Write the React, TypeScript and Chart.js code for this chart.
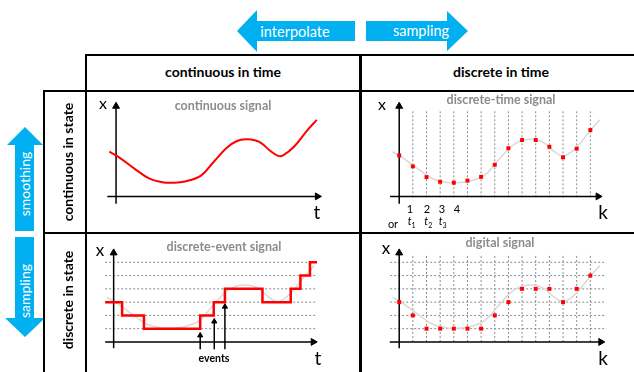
import React, { useEffect, useRef } from 'react';
import { Chart, registerables } from 'chart.js';
Chart.register(...registerables);

const FONT = 'Lato, "Open Sans", sans-serif';

// ---------------- data ----------------
// continuous signal x(t): t in sample periods, x in quantisation levels
const curveT = [-0.49, 0.09, 1.27, 2.45, 3.39, 4.1, 5.04, 6.22, 7.16, 8.11, 8.82, 9.52, 10.23, 10.69, 11.29, 11.87, 12.23, 13.05, 13.99, 14.7];
const curveX = [3.36, 3.03, 2.15, 1.33, 1.07, 1.03, 1.12, 1.56, 2.61, 3.66, 4.15, 4.29, 4.2, 3.97, 3.43, 3.05, 3.08, 3.75, 4.95, 5.76];
// sample indices k and sampled values
const sampleK = [0, 1, 2, 3, 4, 5, 6, 7, 8, 9, 10, 11, 12, 13, 14];
const sampleX = [3.08, 2.26, 1.45, 1.1, 1.03, 1.19, 1.47, 2.38, 3.62, 4.24, 4.24, 3.73, 2.94, 3.59, 4.99];
// digital (quantised) samples
const digitalX = [3, 2, 1, 1, 1, 1, 1, 2, 3, 4, 4, 4, 3, 4, 5];
// sample grid lines and quantisation levels
const gridK = [1, 2, 3, 4, 5, 6, 7, 8, 9, 10, 11, 12, 13, 14];
const levels = [1, 2, 3, 4, 5, 6];
// discrete-event signal: segment start times and levels
const eventT = [-0.62, 0.62, 2.22, 6.34, 7.33, 8.15, 10.9, 12.97, 13.68, 14.38, 14.9];
const eventX = [3, 2, 1, 2, 3, 4, 3, 4, 5, 6, 6];
// event markers
const eventArrowT = [6.34, 7.37, 8.15];
const eventArrowTop = [0.7, 1.75, 2.87];
// tick labels
const kTickLabels = ['1', '2', '3', '4'];
const tTickLabels = ['1', '2', '3'];

// ---------------- layout ----------------
const PX_T = 14.17; // px per sample period
const PX_X = 14.3; // px per level

type Box = { left: number; top: number; width: number; height: number; ox: number; oy: number };

const BOX_TL: Box = { left: 86, top: 91, width: 274, height: 142, ox: 112, oy: 199 };
const BOX_TR: Box = { left: 360, top: 91, width: 274, height: 142, ox: 395.5, oy: 199 };
const BOX_BL: Box = { left: 86, top: 233, width: 274, height: 139, ox: 109.5, oy: 345 };
const BOX_BR: Box = { left: 360, top: 233, width: 274, height: 139, ox: 395.5, oy: 345 };

const RED = '#ff0000';
const LIGHT = '#d9d9d9';
const DOT = '#8a8a8a';

const pts = (xs: number[], ys: number[]) => xs.map((x, i) => ({ x, y: ys[i] }));

const line = (data: any[], color: string, width: number, extra: any = {}) => ({
  data,
  showLine: true,
  borderColor: color,
  backgroundColor: color,
  borderWidth: width,
  pointRadius: 0,
  clip: false,
  tension: 0,
  spanGaps: false,
  ...extra,
});

function axes(xFrom: number, xTo: number, yFrom: number, yTo: number) {
  const r = 4;
  const head = { pointRadius: [0, r], pointStyle: 'triangle', pointBackgroundColor: '#000', pointBorderColor: '#000', pointBorderWidth: 1, order: 1 };
  return [
    line([{ x: 0, y: yFrom }, { x: 0, y: yTo - r / PX_X }], '#000', 1.5, { ...head, pointRotation: 0 }),
    line([{ x: xFrom, y: 0 }, { x: xTo - r / PX_T, y: 0 }], '#000', 1.5, { ...head, pointRotation: 90 }),
  ];
}

function vGrid(y0: number, y1: number) {
  const d: any[] = [];
  gridK.forEach((k) => d.push({ x: k, y: y0 }, { x: k, y: y1 }, { x: k, y: null }));
  return line(d, DOT, 1, { borderDash: [2, 2], order: 3 });
}

function hGrid(x0: number, x1: number) {
  const d: any[] = [];
  levels.forEach((l) => d.push({ x: x0, y: l }, { x: x1, y: l }, { x: null, y: null }));
  return line(d, DOT, 1, { borderDash: [2, 2], order: 3 });
}

const grayCurve = () => line(pts(curveT, curveX), LIGHT, 1.5, { tension: 0.4, order: 2 });

const samplePoints = (ys: number[]) => ({
  data: pts(sampleK, ys),
  showLine: false,
  pointStyle: 'rect',
  pointRadius: 2.8,
  pointBackgroundColor: RED,
  pointBorderColor: RED,
  pointBorderWidth: 0,
  clip: false,
  order: 0,
});

function Panel({ box, datasets }: { box: Box; datasets: any[] }) {
  const ref = useRef<HTMLCanvasElement>(null);
  useEffect(() => {
    const c = new Chart(ref.current as HTMLCanvasElement, {
      type: 'scatter',
      data: { datasets },
      options: {
        responsive: false,
        animation: false,
        events: [],
        devicePixelRatio: 1,
        layout: { padding: 0 },
        plugins: { legend: { display: false }, tooltip: { enabled: false } },
        scales: {
          x: { type: 'linear', display: false, min: (box.left - box.ox) / PX_T, max: (box.left + box.width - box.ox) / PX_T },
          y: { type: 'linear', display: false, min: -(box.top + box.height - box.oy) / PX_X, max: (box.oy - box.top) / PX_X },
        },
      } as any,
    });
    return () => c.destroy();
  }, []);
  return (
    <canvas
      ref={ref}
      width={box.width}
      height={box.height}
      style={{ position: 'absolute', left: box.left, top: box.top, width: box.width, height: box.height }}
    />
  );
}

function T({ x, y, children, size = 12, bold = false, color = '#000', rot = 0, italic = false }: any) {
  return (
    <div
      style={{
        position: 'absolute',
        left: x,
        top: y,
        transform: `translate(-50%,-50%) rotate(${rot}deg)`,
        whiteSpace: 'nowrap',
        lineHeight: 1,
        fontSize: size,
        fontWeight: bold ? 700 : 400,
        fontStyle: italic ? 'italic' : 'normal',
        color,
        fontFamily: FONT,
      }}
    >
      {children}
    </div>
  );
}

const Rule = ({ x, y, w, h }: any) => (
  <div style={{ position: 'absolute', left: x, top: y, width: w, height: h, background: '#000' }} />
);

const Shape = ({ x, y, w, h, poly }: any) => (
  <div
    style={{
      position: 'absolute',
      left: x,
      top: y,
      width: w,
      height: h,
      background: '#00b0f0',
      clipPath: `polygon(${poly.map((p: number[]) => `${p[0]}px ${p[1]}px`).join(',')})`,
    }}
  />
);

export default function App() {
  useEffect(() => {
    document.body.style.margin = '0';
  }, []);

  const tl = [line(pts(curveT, curveX), RED, 2, { tension: 0.4, order: 0 }), ...axes(-0.64, 15.03, -0.56, 7.06)];
  const tr = [samplePoints(sampleX), ...axes(-0.67, 14.85, -0.56, 7.06), grayCurve(), vGrid(-0.07, 6.43)];
  const bl = [
    line(pts(eventT, eventX), RED, 2.5, { stepped: true, order: 0 }),
    ...axes(-0.62, 14.9, -0.47, 6.99),
    ...eventArrowT.map((t, i) =>
      line([{ x: t, y: -0.56 }, { x: t, y: eventArrowTop[i] - 3 / PX_X }], '#000', 1.5, {
        pointRadius: [0, 3],
        pointStyle: 'triangle',
        pointBackgroundColor: '#000',
        pointBorderColor: '#000',
        pointBorderWidth: 1,
        order: 1,
      })
    ),
    grayCurve(),
    hGrid(-0.62, 14.9),
  ];
  const br = [samplePoints(digitalX), ...axes(-0.69, 15.05, -0.47, 6.99), grayCurve(), vGrid(0, 6.64), hGrid(-0.66, 15.17)];

  const kTickPx = [410, 427, 442, 457];
  const tTickPx = [411.7, 428.3, 442.7];

  return (
    <div style={{ position: 'fixed', left: 0, top: 0, width: 634, height: 372, background: '#fff', overflow: 'hidden', fontFamily: FONT }}>
      {/* big blue arrows */}
      <Shape x={237} y={10} w={118} h={42} poly={[[0, 21], [20, 0], [20, 11], [118, 11], [118, 31], [20, 31], [20, 42]]} />
      <Shape x={366} y={11} w={102} h={40} poly={[[0, 10], [81, 10], [81, 0], [102, 20], [81, 40], [81, 30], [0, 30]]} />
      <Shape x={7} y={127} w={36} h={104} poly={[[18, 0], [36, 18], [27, 18], [27, 104], [8, 104], [8, 18], [0, 18]]} />
      <Shape x={5} y={237} w={40} h={100} poly={[[10, 0], [29, 0], [29, 81], [40, 81], [20, 100], [0, 81], [10, 81]]} />
      <T x={295} y={32} size={14.5} color="#fff">interpolate</T>
      <T x={421} y={31} size={14.5} color="#fff">sampling</T>
      <T x={24.5} y={184} size={14} color="#fff" rot={-90}>smoothing</T>
      <T x={24.5} y={291} size={14} color="#fff" rot={-90}>sampling</T>

      {/* charts */}
      <Panel box={BOX_TL} datasets={tl} />
      <Panel box={BOX_TR} datasets={tr} />
      <Panel box={BOX_BL} datasets={bl} />
      <Panel box={BOX_BR} datasets={br} />

      {/* table rules */}
      <Rule x={85} y={54} w={549} h={2} />
      <Rule x={43} y={90} w={591} h={2} />
      <Rule x={43} y={232} w={591} h={2} />
      <Rule x={85} y={54} w={2} h={318} />
      <Rule x={43} y={90} w={2} h={282} />
      <Rule x={359} y={54} w={2.5} h={318} />

      {/* headers */}
      <T x={223} y={72} size={14} bold>continuous in time</T>
      <T x={501} y={72} size={14} bold>discrete in time</T>
      <T x={68} y={162} size={14} bold rot={-90}>continuous in state</T>
      <T x={68} y={300} size={14} bold rot={-90}>discrete in state</T>

      {/* panel titles */}
      <T x={223} y={106} size={12.5} bold color="#8c8c8c">continuous signal</T>
      <T x={501} y={100} size={12.5} bold color="#8c8c8c">discrete-time signal</T>
      <T x={224} y={247} size={12.5} bold color="#8c8c8c">discrete-event signal</T>
      <T x={500} y={243} size={12.5} bold color="#8c8c8c">digital signal</T>

      {/* axis labels */}
      <T x={103} y={103} size={16}>x</T>
      <T x={382} y={104} size={16}>x</T>
      <T x={100} y={249} size={17}>x</T>
      <T x={386} y={247} size={17}>x</T>
      <T x={317} y={211} size={19}>t</T>
      <T x={603} y={211} size={19}>k</T>
      <T x={318} y={357} size={19}>t</T>
      <T x={603} y={357} size={19}>k</T>

      {/* sample ticks */}
      {kTickLabels.map((s, i) => (
        <T key={'k' + i} x={kTickPx[i]} y={208} size={11}>{s}</T>
      ))}
      <T x={393} y={223} size={11}>or</T>
      {tTickLabels.map((s, i) => (
        <T key={'t' + i} x={tTickPx[i]} y={222} size={11}>
          <i>t</i>
          <sub style={{ fontSize: 7 }}>{s}</sub>
        </T>
      ))}

      <T x={214} y={358} size={10.5} bold>events</T>
    </div>
  );
}
